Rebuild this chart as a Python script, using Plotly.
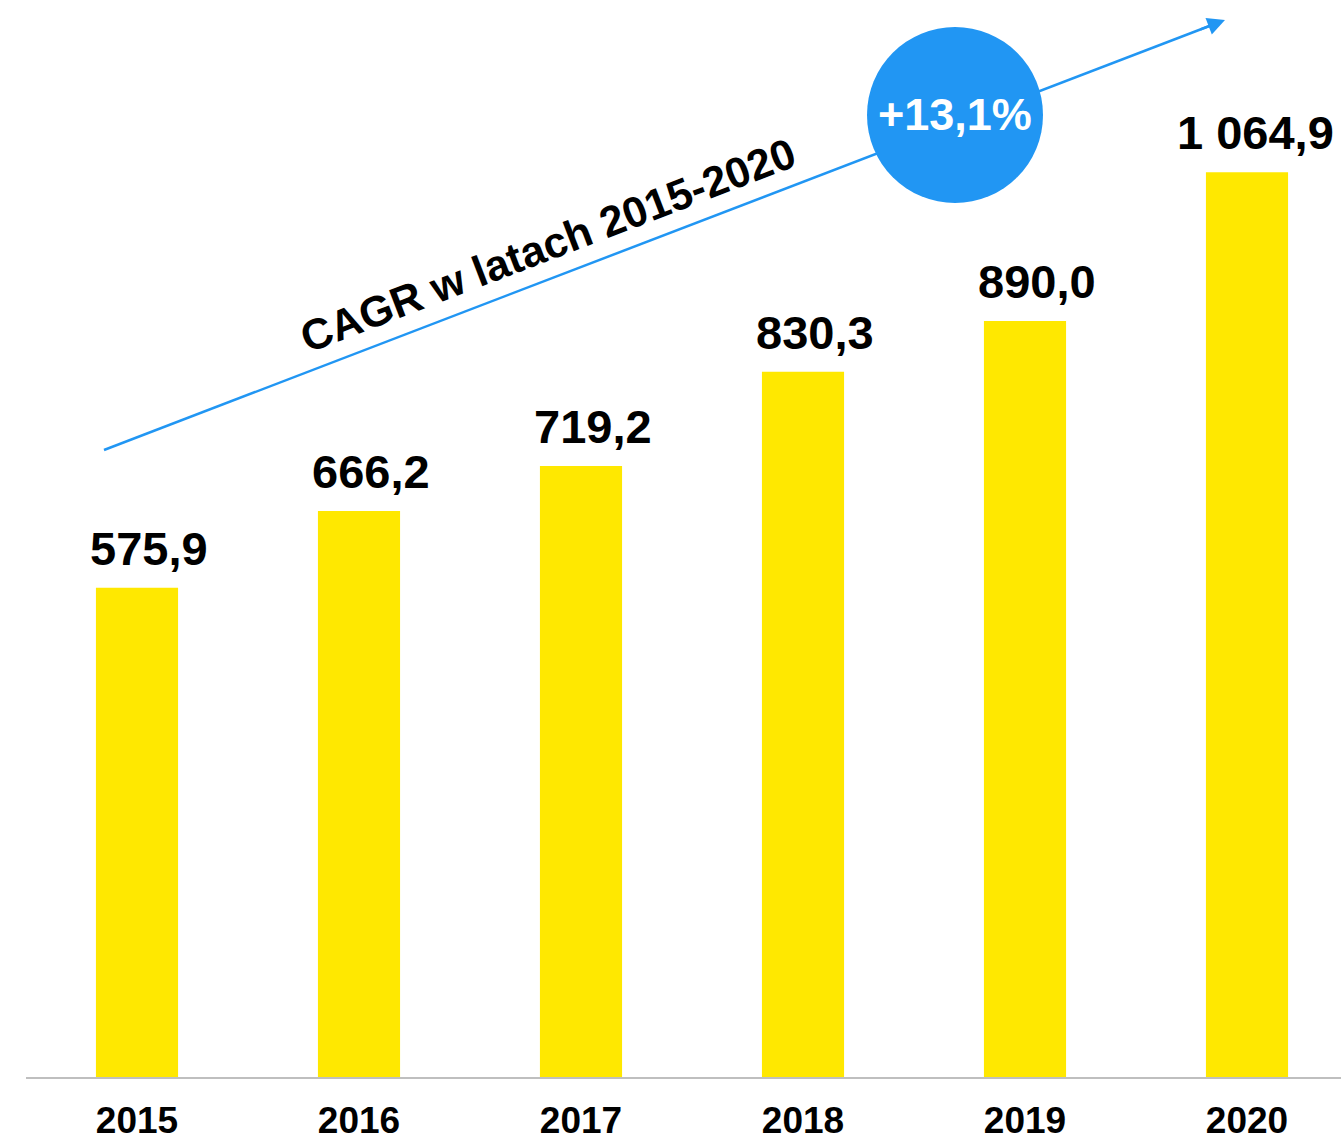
import plotly.graph_objects as go

years = ["2015", "2016", "2017", "2018", "2019", "2020"]
values = [575.9, 666.2, 719.2, 830.3, 890.0, 1064.9]
labels = ["575,9", "666,2", "719,2", "830,3", "890,0", "1 064,9"]
cagr_label = "+13,1%"
cagr_text = "CAGR w latach 2015-2020"

# body margin is removed via post_script, so the figure fills the window
OFF = 0
W, H = 1341 - OFF, 1135 - OFF
BASE = 1077  # screen y of the axis
LEFT = 26    # screen x of the axis start
ML, MR, MT = LEFT - OFF, 0, 0
MB = 1135 - BASE
PW, PH = W - ML - MR, H - MT - MB
PX_PER_UNIT = 0.8495

def px(x):
    """screen x -> paper x"""
    return (x - OFF - ML) / PW

def py(y):
    """screen y -> paper y"""
    return (BASE - y) / PH

FONT = "Arial, Liberation Sans, sans-serif"
BLUE = "#2196F3"

fig = go.Figure()
fig.add_trace(go.Bar(
    x=list(range(len(years))), y=values, width=0.37,
    marker=dict(color="#FFE800", line=dict(width=0)),
    hoverinfo="skip",
))

annotations = []
for i, (v, t) in enumerate(zip(values, labels)):
    annotations.append(dict(
        x=i, y=v, xref="x", yref="y", text=f"<b>{t}</b>", showarrow=False,
        xanchor="center", yanchor="bottom", yshift=11,
        xshift=8 if i == len(values) - 1 else 12,
        font=dict(family=FONT, size=47, color="black"),
    ))

# arrow head
annotations.append(dict(
    x=px(1225), y=py(20), xref="paper", yref="paper",
    ax=-26, ay=10, axref="pixel", ayref="pixel",
    showarrow=True, arrowhead=2, arrowsize=1.4, arrowwidth=2.5,
    arrowcolor=BLUE, text="",
))
annotations.append(dict(
    x=px(548), y=py(245), xref="paper", yref="paper",
    xanchor="center", yanchor="middle",
    text=f"<b>{cagr_text}</b>", showarrow=False, textangle=-21,
    font=dict(family=FONT, size=43, color="black"),
))
annotations.append(dict(
    x=px(955), y=py(115), xref="paper", yref="paper",
    xanchor="center", yanchor="middle",
    text=f"<b>{cagr_label}</b>", showarrow=False,
    font=dict(family=FONT, size=45, color="white"),
))

shapes = [
    dict(type="line", xref="paper", yref="paper",
         x0=px(104), y0=py(450), x1=px(1212), y1=py(25),
         line=dict(color=BLUE, width=2.5), layer="above"),
    dict(type="circle", xref="paper", yref="paper",
         x0=px(867), x1=px(1043), y0=py(203), y1=py(27),
         fillcolor=BLUE, line=dict(width=0), layer="above"),
]

fig.update_layout(
    width=W, height=H,
    margin=dict(l=ML, r=MR, t=MT, b=MB, autoexpand=False),
    paper_bgcolor="white", plot_bgcolor="white",
    showlegend=False,
    annotations=annotations, shapes=shapes,
    xaxis=dict(
        range=[-0.5, -0.5 + PW / 222], tickmode="array",
        tickvals=list(range(len(years))),
        ticktext=[f"<b>{y}</b>" for y in years],
        tickfont=dict(family=FONT, size=37, color="black"),
        ticklabelstandoff=10,
        showline=True, linecolor="#BFBFBF", linewidth=2,
        showgrid=False, zeroline=False, ticks="", automargin=False,
    ),
    yaxis=dict(range=[0, PH / PX_PER_UNIT], visible=False,
               showgrid=False, zeroline=False),
)

fig.write_html(
    "out.html",
    config={"displayModeBar": False},
    post_script="document.body.style.margin='0';document.body.style.overflow='hidden';",
)
